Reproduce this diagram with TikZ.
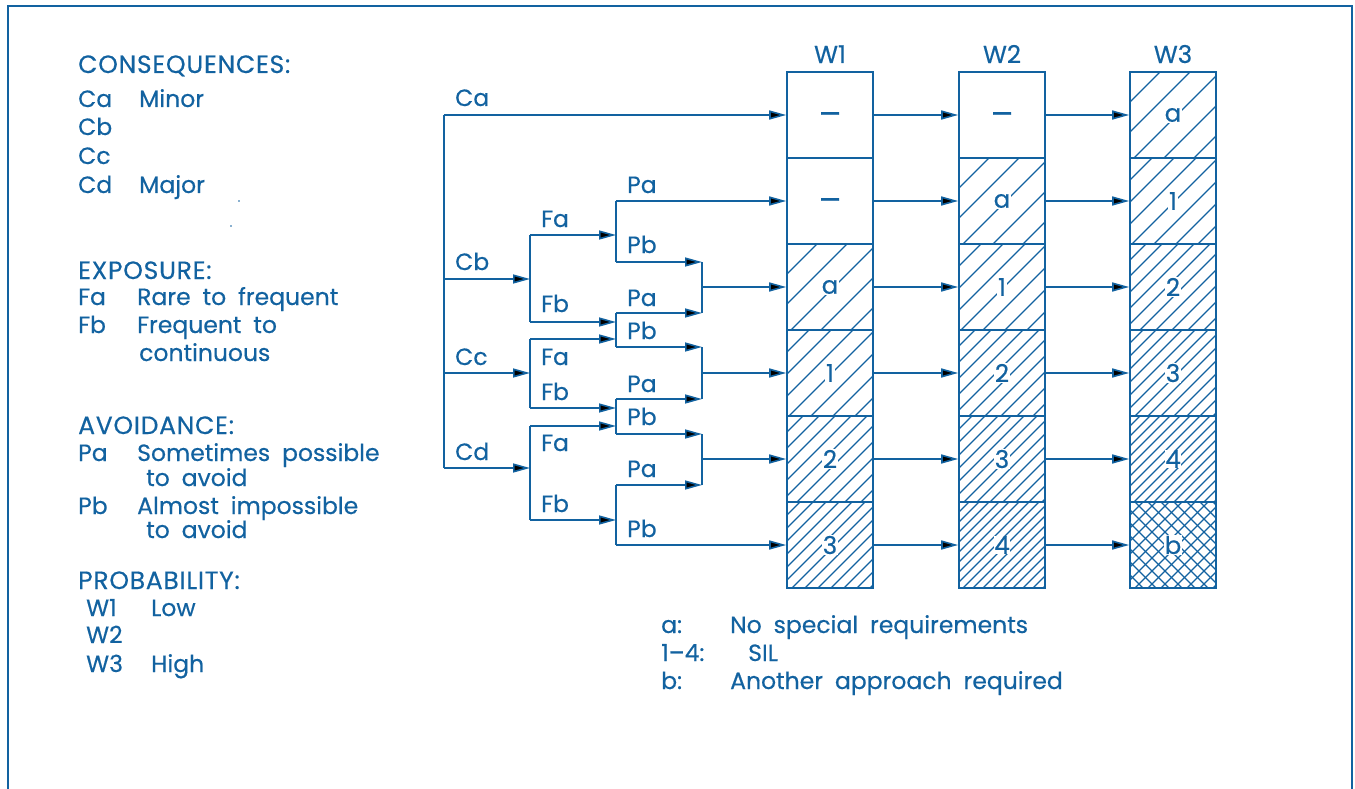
\documentclass[tikz,border=0pt]{standalone}
\usepackage{fontspec}
\setmainfont{Poppins}[WordSpace=1.9, FakeBold=0.4]
\newfontfamily\capsfont{Poppins}[LetterSpace=3, FakeBold=0.4]
\usetikzlibrary{arrows.meta}
\definecolor{cad}{RGB}{18,98,160}
\newcommand\HatchCell[4]{% x0 y0 spacing cross(0/1); cell 86x86
  \begin{scope}
    \clip (#1,#2) rectangle ++(86,86);
    \pgfmathtruncatemacro\hN{ceil(172/#3)}
    \foreach \k in {0,...,\hN}{\draw[hatchline] ({#1+\k*#3-86},{#2+86}) -- ++(86,-86);}
    \ifnum#4=1
      \foreach \k in {0,...,\hN}{\draw[hatchline] ({#1+\k*#3-86},#2) -- ++(86,86);}
    \fi
  \end{scope}}
\tikzset{
  txt/.style={anchor=base west, inner sep=0pt, text=cad, font=\fontsize{23.5}{28}\selectfont},
  captxt/.style={txt, font=\capsfont\fontsize{25}{28}\selectfont},
  hdr/.style={anchor=base, inner sep=0pt, text=cad, font=\fontsize{24.5}{28}\selectfont},
  cell/.style={draw=cad, line width=1.6pt, minimum width=86pt, minimum height=86pt, inner sep=0pt},
  celltxt/.style={fill=white, inner sep=0.6pt, text=cad, font=\fontsize{24.5}{28}\selectfont},
  hatchline/.style={draw=cad, line width=1.2pt},
  wire/.style={draw=cad, line width=1.6pt},
  arr/.style={wire, -{Triangle[length=17pt,width=9pt,fill=black]}},
  frameline/.style={draw=cad, line width=2pt},
}
\begin{document}
\begin{tikzpicture}[x=1pt,y=-1pt]
\useasboundingbox (0,0) rectangle (1355,789);
% frame
\draw[frameline] (8,789) -- (8,6) -- (1352,6) -- (1352,789);

% ---- left legend
\node[captxt] (hcons) at (78,73) {CONSEQUENCES:};
\node[txt] (lca) at (78,107) {Ca};
\node[txt] (lcat) at (139,107) {Minor};
\node[txt] (lcb) at (78,135) {Cb};
\node[txt] (lcc) at (78,164) {Cc};
\node[txt] (lcd) at (78,193) {Cd};
\node[txt] (lcdt) at (139,193) {Major};
\fill[cad] (239,201) circle (0.8);
\fill[cad] (231,226) circle (0.9);
\node[captxt] (hexp) at (78,279) {EXPOSURE:};
\node[txt] (lfa) at (78,305) {Fa};
\node[txt] (lfat) at (137,305) {Rare to frequent};
\node[txt] (lfb) at (78,333) {Fb};
\node[txt] (lfbt) at (137,333) {Frequent to};
\node[txt] (lfbt2) at (139,361) {continuous};
\node[captxt] (havo) at (78,434) {AVOIDANCE:};
\node[txt] (lpa) at (78,461) {Pa};
\node[txt] (lpat) at (137,461) {Sometimes possible};
\node[txt] (lpat2) at (146,486) {to avoid};
\node[txt] (lpb) at (78,514) {Pb};
\node[txt] (lpbt) at (137,514) {Almost impossible};
\node[txt] (lpbt2) at (146,538) {to avoid};
\node[captxt] (hprob) at (78,589) {PROBABILITY:};
\node[txt] (lw1) at (86,616) {W1};
\node[txt] (lw1t) at (151,616) {Low};
\node[txt] (lw2) at (86,643) {W2};
\node[txt] (lw3) at (86,672) {W3};
\node[txt] (lw3t) at (151,672) {High};

% ---- bottom legend
\node[txt] (ka) at (661,633) {a:};
\node[txt] (kat) at (730,633) {No special requirements};
\node[txt] (ks) at (661,661) {1--4:};
\node[txt] (kst) at (748,661) {SIL};
\node[txt] (kb) at (661,689) {b:};
\node[txt] (kbt) at (730,689) {Another approach required};

% ---- hatching (columns x0 = 787, 959, 1130; rows y0 = 72 + 86k)
% W1: -, -, a, 1, 2, 3
\HatchCell{787}{244}{30}{0}
\HatchCell{787}{330}{22}{0}
\HatchCell{787}{416}{16}{0}
\HatchCell{787}{502}{13}{0}
% W2: -, a, 1, 2, 3, 4
\HatchCell{959}{158}{30}{0}
\HatchCell{959}{244}{22}{0}
\HatchCell{959}{330}{16}{0}
\HatchCell{959}{416}{13}{0}
\HatchCell{959}{502}{10}{0}
% W3: a, 1, 2, 3, 4, b
\HatchCell{1130}{72}{30}{0}
\HatchCell{1130}{158}{22}{0}
\HatchCell{1130}{244}{16}{0}
\HatchCell{1130}{330}{13}{0}
\HatchCell{1130}{416}{10}{0}
\HatchCell{1130}{502}{13}{1}

% ---- cells
\foreach \c/\x in {1/830,2/1002,3/1173}{
  \node[hdr] (hw\c) at (\x,63) {W\c};
  \foreach \r/\y in {1/115,2/201,3/287,4/373,5/459,6/545}{
    \node[cell] (w\c r\r) at (\x,\y) {};
  }
}
\foreach \c/\r/\t in {1/3/a,1/4/1,1/5/2,1/6/3,
                      2/2/a,2/3/1,2/4/2,2/5/3,2/6/4,
                      3/1/a,3/2/1,3/3/2,3/4/3,3/5/4,3/6/b}{
  \node[celltxt] (t\c r\r) at (w\c r\r) {\t};
}
\foreach \c/\r in {1/1,1/2,2/1}{
  \node[celltxt, font=\fontsize{34}{34}\selectfont, yshift=-4pt] (t\c r\r) at (w\c r\r) {--};
}
% column-to-column arrows
\foreach \r in {1,...,6}{
  \draw[arr] (w1r\r.east) -- (w2r\r.west);
  \draw[arr] (w2r\r.east) -- (w3r\r.west);
}

% ---- decision tree
\coordinate (tca) at (444,115);
\coordinate (tcb) at (444,279);
\coordinate (tcc) at (444,373);
\coordinate (tcd) at (444,468);
\draw[wire] (tca) -- (tcd);
\node[txt] (nca) at (455,106) {Ca};
\node[txt] (ncb) at (455,270) {Cb};
\node[txt] (ncc) at (455,365) {Cc};
\node[txt] (ncd) at (455,460) {Cd};
\draw[arr] (tca) -- (w1r1.west);

% F junctions
\coordinate (fb1) at (530,279); \coordinate (fb1a) at (530,235); \coordinate (fb1b) at (530,322);
\coordinate (fc1) at (530,373); \coordinate (fc1a) at (530,339); \coordinate (fc1b) at (530,408);
\coordinate (fd1) at (530,468); \coordinate (fd1a) at (530,426); \coordinate (fd1b) at (530,520);
\draw[arr] (tcb) -- (fb1);
\draw[arr] (tcc) -- (fc1);
\draw[arr] (tcd) -- (fd1);
\draw[wire] (fb1a) -- (fb1b);
\draw[wire] (fc1a) -- (fc1b);
\draw[wire] (fd1a) -- (fd1b);
\node[txt] (nfa1) at (541,227) {Fa};
\node[txt] (nfb1) at (541,312) {Fb};
\node[txt] (nfa2) at (541,365) {Fa};
\node[txt] (nfb2) at (541,400) {Fb};
\node[txt] (nfa3) at (541,451) {Fa};
\node[txt] (nfb3) at (541,512) {Fb};

% P junctions (vertical bars at x=616)
\coordinate (p1a) at (616,201); \coordinate (p1b) at (616,262);
\coordinate (p2a) at (616,313); \coordinate (p2b) at (616,347);
\coordinate (p3a) at (616,399); \coordinate (p3b) at (616,434);
\coordinate (p4a) at (616,485); \coordinate (p4b) at (616,545);
\draw[wire] (p1a) -- (p1b);
\draw[wire] (p2a) -- (p2b);
\draw[wire] (p3a) -- (p3b);
\draw[wire] (p4a) -- (p4b);
\draw[arr] (fb1a) -- (616,235);
\draw[arr] (fb1b) -- (616,322);
\draw[arr] (fc1a) -- (616,339);
\draw[arr] (fc1b) -- (616,408);
\draw[arr] (fd1a) -- (616,426);
\draw[arr] (fd1b) -- (616,520);
\node[txt] (npa1) at (627,193) {Pa};
\node[txt] (npb1) at (627,253) {Pb};
\node[txt] (npa2) at (627,306) {Pa};
\node[txt] (npb2) at (627,339) {Pb};
\node[txt] (npa3) at (627,392) {Pa};
\node[txt] (npb3) at (627,425) {Pb};
\node[txt] (npa4) at (627,477) {Pa};
\node[txt] (npb4) at (627,537) {Pb};

% merge bars at x=702
\coordinate (m1a) at (702,262); \coordinate (m1b) at (702,313); \coordinate (m1) at (702,287);
\coordinate (m2a) at (702,347); \coordinate (m2b) at (702,399); \coordinate (m2) at (702,373);
\coordinate (m3a) at (702,434); \coordinate (m3b) at (702,485); \coordinate (m3) at (702,459);
\draw[wire] (m1a) -- (m1b);
\draw[wire] (m2a) -- (m2b);
\draw[wire] (m3a) -- (m3b);
\draw[arr] (p1a) -- (w1r2.west);
\draw[arr] (p1b) -- (m1a);
\draw[arr] (p2a) -- (m1b);
\draw[arr] (p2b) -- (m2a);
\draw[arr] (p3a) -- (m2b);
\draw[arr] (p3b) -- (m3a);
\draw[arr] (p4a) -- (m3b);
\draw[arr] (p4b) -- (w1r6.west);
\draw[arr] (m1) -- (w1r3.west);
\draw[arr] (m2) -- (w1r4.west);
\draw[arr] (m3) -- (w1r5.west);
\end{tikzpicture}
\end{document}
